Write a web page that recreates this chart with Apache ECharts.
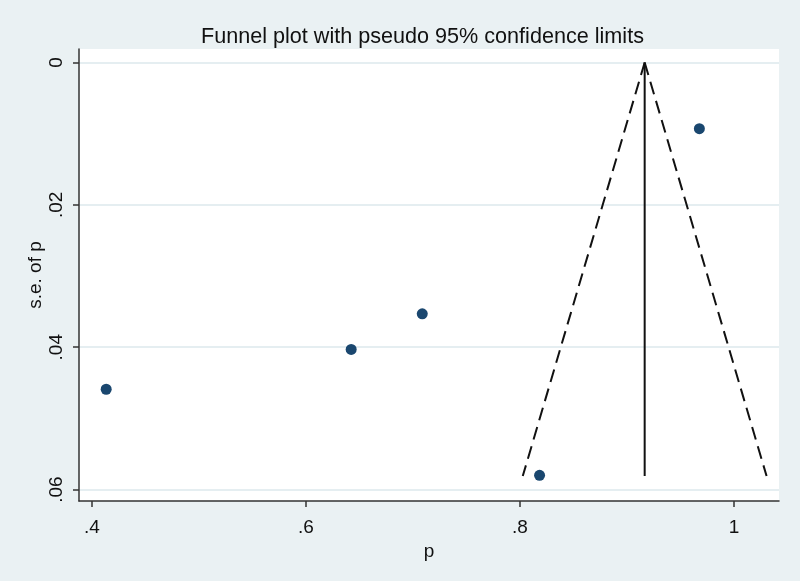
<!DOCTYPE html>
<html>
<head>
<meta charset="utf-8">
<script src="https://cdn.jsdelivr.net/npm/echarts@6/dist/echarts.min.js"></script>
<style>
  html, body { margin: 0; padding: 0; background: #eaf1f3; }
  #chart { width: 800px; height: 581px; }
</style>
</head>
<body>
<div id="chart"></div>
<script>
// study estimates
const studyP = [0.4134, 0.6423, 0.7087, 0.8183, 0.9676];
const studySe = [0.0459, 0.0403, 0.0353, 0.0580, 0.0093];

// pooled estimate and pseudo 95% limits at the largest s.e.
const pooledP = 0.9165;
const maxSe = 0.0581;
const lowerLimit = 0.8026;
const upperLimit = 1.0304;

const xTicks = [0.4, 0.6, 0.8, 1];
const yTicks = [0, 0.02, 0.04, 0.06];

function fmt(v) {
  if (v === 0) return "0";
  return String(+v.toFixed(3)).replace(/^0\./, ".");
}

const chart = echarts.init(document.getElementById("chart"));
const font = "Liberation Sans, Arial, sans-serif";

const option = {
  backgroundColor: "#eaf1f3",
  animation: false,
  title: {
    text: "Funnel plot with pseudo 95% confidence limits",
    left: 196,
    top: 21,
    textStyle: { fontFamily: font, fontSize: 21.6, fontWeight: "normal", color: "#111" },
  },
  grid: {
    left: 79,
    right: 21,
    top: 49,
    bottom: 80,
    show: true,
    backgroundColor: "#ffffff",
    borderWidth: 0,
  },
  xAxis: {
    type: "value",
    min: 0.388,
    max: 1.042,
    name: "p",
    nameLocation: "middle",
    nameGap: 40,
    nameTextStyle: { fontFamily: font, fontSize: 19, color: "#111" },
    axisLine: { show: true, onZero: false, lineStyle: { color: "#333", width: 1.5 } },
    axisTick: { show: true, length: 6, customValues: xTicks, lineStyle: { color: "#333", width: 1.5 } },
    axisLabel: { customValues: xTicks, formatter: fmt, fontFamily: font, fontSize: 19, color: "#111", margin: 17 },
    splitLine: { show: false },
  },
  yAxis: {
    type: "value",
    inverse: true,
    min: -0.0019,
    max: 0.0616,
    name: "s.e. of p",
    nameLocation: "middle",
    nameGap: 34,
    nameMoveOverlap: false,
    nameTextStyle: { fontFamily: font, fontSize: 19, color: "#111" },
    axisLine: { show: true, onZero: false, lineStyle: { color: "#333", width: 1.5 } },
    axisTick: { show: true, length: 6, customValues: yTicks, lineStyle: { color: "#333", width: 1.5 } },
    axisLabel: { customValues: yTicks, formatter: fmt, rotate: 90, fontFamily: font, fontSize: 19, color: "#111", margin: 13 },
    splitLine: { show: false },
  },
  series: [
    {
      type: "line",
      silent: true,
      symbol: "none",
      data: [[pooledP, 0], [pooledP, maxSe]],
      lineStyle: { color: "#111", width: 2 },
      markLine: {
        silent: true,
        symbol: "none",
        label: { show: false },
        lineStyle: { color: "#dde9ec", width: 1.5, type: "solid" },
        data: yTicks.map((v) => ({ yAxis: v })),
        z: 0,
      },
      z: 3,
    },
    {
      type: "line",
      silent: true,
      symbol: "none",
      data: [[pooledP, 0], [lowerLimit, maxSe]],
      lineStyle: { color: "#111", width: 2, type: [13, 7] },
      z: 3,
    },
    {
      type: "line",
      silent: true,
      symbol: "none",
      data: [[pooledP, 0], [upperLimit, maxSe]],
      lineStyle: { color: "#111", width: 2, type: [13, 7] },
      z: 3,
    },
    {
      type: "scatter",
      symbol: "circle",
      symbolSize: 11,
      data: studyP.map((p, i) => [p, studySe[i]]),
      itemStyle: { color: "#1a476f", opacity: 1 },
      z: 4,
    },
  ],
};

chart.setOption(option);
</script>
</body>
</html>
